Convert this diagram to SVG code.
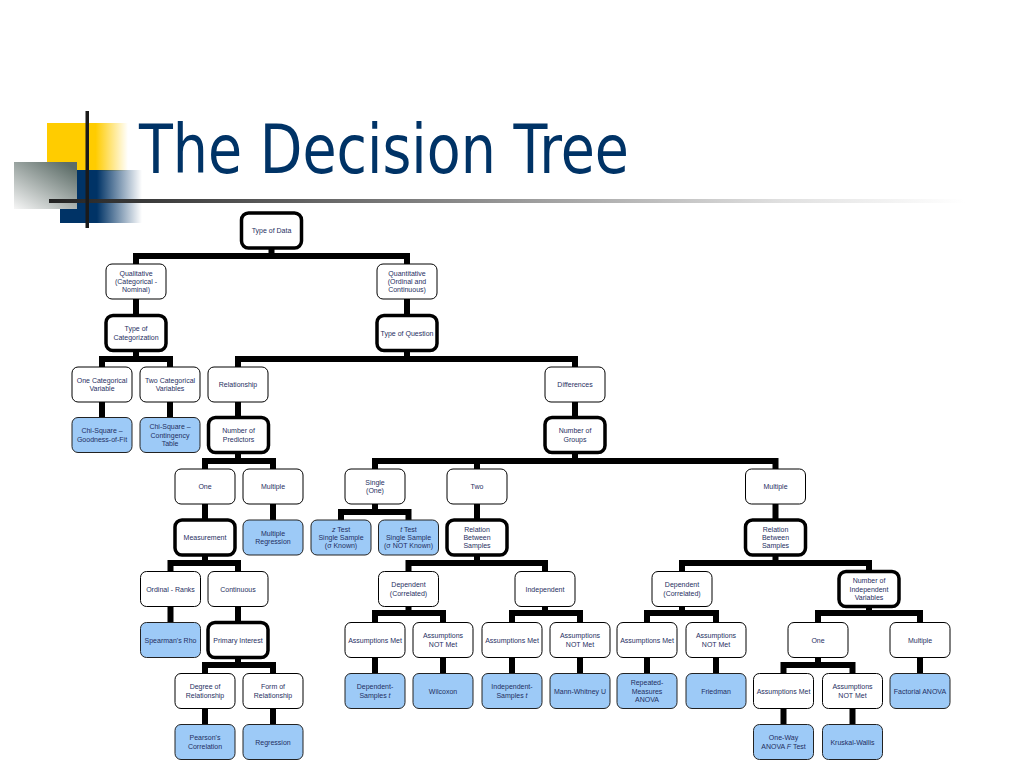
<svg xmlns="http://www.w3.org/2000/svg" width="1024" height="768" viewBox="0 0 1024 768">
<defs>
<linearGradient id="gY" gradientUnits="userSpaceOnUse" x1="47" y1="0" x2="128" y2="0"><stop offset="0" stop-color="#FFCC00"/><stop offset="0.6" stop-color="#FFCC00"/><stop offset="1" stop-color="#FFCC00" stop-opacity="0"/></linearGradient>
<linearGradient id="gB" gradientUnits="userSpaceOnUse" x1="60" y1="0" x2="142" y2="0"><stop offset="0" stop-color="#003366"/><stop offset="0.45" stop-color="#003366"/><stop offset="1" stop-color="#003366" stop-opacity="0"/></linearGradient>
<linearGradient id="gG" x1="0" y1="1" x2="0.8" y2="0"><stop offset="0" stop-color="#f6f6f6"/><stop offset="1" stop-color="#5d6d68"/></linearGradient>
<linearGradient id="gL" gradientUnits="userSpaceOnUse" x1="49" y1="0" x2="965" y2="0"><stop offset="0" stop-color="#222222"/><stop offset="0.45" stop-color="#8a8a8a"/><stop offset="0.8" stop-color="#e0e0e0"/><stop offset="1" stop-color="#ffffff"/></linearGradient>
<style>
.n{fill:#ffffff;stroke:#000000;stroke-width:1}
.k{fill:#ffffff;stroke:#000000;stroke-width:3.5}
.b{fill:#9DCAF7;stroke:#222222;stroke-width:1}
.t{font-family:"Liberation Sans",Arial,sans-serif;font-size:7px;fill:#1f2f62;text-anchor:middle}
.c{fill:none;stroke:#000000;stroke-width:6;stroke-linejoin:miter;stroke-linecap:butt}
</style>
</defs>
<rect width="1024" height="768" fill="#ffffff"/>
<g id="header">
<rect x="47" y="123" width="81" height="48" fill="url(#gY)"/>
<rect x="60" y="170" width="82" height="53" fill="url(#gB)"/>
<rect x="14" y="162" width="63" height="47" fill="url(#gG)"/>
<rect x="49" y="199" width="916" height="4" fill="url(#gL)"/>
<rect x="85.5" y="111" width="3.5" height="117" fill="#1a1a1a"/>
<text x="139" y="173" font-family="'DejaVu Sans',Tahoma,sans-serif" font-size="68" fill="#003366" textLength="490" lengthAdjust="spacingAndGlyphs">The Decision Tree</text>
</g>
<g id="connectors" class="c">
<path d="M271.5,230.5V256M136,281.5V256H407V281.5"/>
<path d="M136,281.5V333M407,281.5V333"/>
<path d="M136,333V359M102,384.5V359H170V384.5"/>
<path d="M407,333V359M238,384.5V359H575V384.5"/>
<path d="M102,384.5V435M170,384.5V435M238,384.5V435M575,384.5V435"/>
<path d="M238,435V461M205,486.5V461H273V486.5"/>
<path d="M575,435V461M375,486.5V461H775.5V486.5M477,461V486.5"/>
<path d="M205,486.5V537.5M273,486.5V537.5M477,486.5V537.5M775.5,486.5V537.5"/>
<path d="M375,486.5V512M341,537.5V512H408.5V537.5"/>
<path d="M205,537.5V563M170.5,589V563H238V589"/>
<path d="M477,537.5V563M408.5,589V563H545V589"/>
<path d="M775.5,537.5V563M682,589V563H869V589"/>
<path d="M170.5,589V640M238,589V640"/>
<path d="M408.5,589V613M375,640V613H443V640"/>
<path d="M545,589V613M512,640V613H580V640"/>
<path d="M682,589V613M647,640V613H716V640"/>
<path d="M869,589V613M818,640V613H920V640"/>
<path d="M238,640V665M205,691V665H273V691"/>
<path d="M375,640V691M443,640V691M512,640V691M580,640V691M647,640V691M716,640V691M920,640V691"/>
<path d="M818,640V665M783.5,691V665H852.5V691"/>
<path d="M205,691V742M273,691V742M783.5,691V742M852.5,691V742"/>
</g>
<g id="type-of-data"><rect class="k" x="241.5" y="213" width="60" height="35" rx="7"/><text class="t" x="271.5" y="233.3" font-size="8">Type of Data</text></g>
<g id="qualitative"><rect class="n" x="106" y="264" width="60" height="35" rx="6"/><text class="t" x="136" y="275.6">Qualitative<tspan x="136" dy="8.4">(Categorical -</tspan><tspan x="136" dy="8.4">Nominal)</tspan></text></g>
<g id="quantitative"><rect class="n" x="377" y="264" width="60" height="35" rx="6"/><text class="t" x="407" y="275.6">Quantitative<tspan x="407" dy="8.4">(Ordinal and</tspan><tspan x="407" dy="8.4">Continuous)</tspan></text></g>
<g id="type-of-categorization"><rect class="k" x="106" y="315.5" width="60" height="35" rx="7"/><text class="t" x="136" y="331.3">Type of<tspan x="136" dy="8.4">Categorization</tspan></text></g>
<g id="type-of-question"><rect class="k" x="377" y="315.5" width="60" height="35" rx="7"/><text class="t" x="407" y="335.5">Type of Question</text></g>
<g id="one-categorical-variable"><rect class="n" x="72" y="367" width="60" height="35" rx="6"/><text class="t" x="102" y="382.8">One Categorical<tspan x="102" dy="8.4">Variable</tspan></text></g>
<g id="two-categorical-variables"><rect class="n" x="140" y="367" width="60" height="35" rx="6"/><text class="t" x="170" y="382.8">Two Categorical<tspan x="170" dy="8.4">Variables</tspan></text></g>
<g id="relationship"><rect class="n" x="208" y="367" width="60" height="35" rx="6"/><text class="t" x="238" y="387">Relationship</text></g>
<g id="differences"><rect class="n" x="545" y="367" width="60" height="35" rx="6"/><text class="t" x="575" y="387">Differences</text></g>
<g id="chi-square-gof"><rect class="b" x="72" y="417.5" width="60" height="35" rx="6"/><text class="t" x="102" y="433.3">Chi-Square –<tspan x="102" dy="8.4">Goodness-of-Fit</tspan></text></g>
<g id="chi-square-contingency"><rect class="b" x="140" y="417.5" width="60" height="35" rx="6"/><text class="t" x="170" y="429.1">Chi-Square –<tspan x="170" dy="8.4">Contingency</tspan><tspan x="170" dy="8.4">Table</tspan></text></g>
<g id="number-of-predictors"><rect class="k" x="208.5" y="417.5" width="60" height="35" rx="7"/><text class="t" x="238.5" y="433.3">Number of<tspan x="238.5" dy="8.4">Predictors</tspan></text></g>
<g id="number-of-groups"><rect class="k" x="545" y="417.5" width="60" height="35" rx="7"/><text class="t" x="575" y="433.3">Number of<tspan x="575" dy="8.4">Groups</tspan></text></g>
<g id="one-predictor"><rect class="n" x="175" y="469" width="60" height="35" rx="6"/><text class="t" x="205" y="489">One</text></g>
<g id="multiple-predictors"><rect class="n" x="243" y="469" width="60" height="35" rx="6"/><text class="t" x="273" y="489">Multiple</text></g>
<g id="single-group"><rect class="n" x="345" y="469" width="60" height="35" rx="6"/><text class="t" x="375" y="484.8">Single<tspan x="375" dy="8.4">(One)</tspan></text></g>
<g id="two-groups"><rect class="n" x="447" y="469" width="60" height="35" rx="6"/><text class="t" x="477" y="489">Two</text></g>
<g id="multiple-groups"><rect class="n" x="745.5" y="469" width="60" height="35" rx="6"/><text class="t" x="775.5" y="489">Multiple</text></g>
<g id="measurement"><rect class="k" x="175" y="520" width="60" height="35" rx="7"/><text class="t" x="205" y="540">Measurement</text></g>
<g id="multiple-regression"><rect class="b" x="243" y="520" width="60" height="35" rx="6"/><text class="t" x="273" y="535.8">Multiple<tspan x="273" dy="8.4">Regression</tspan></text></g>
<g id="z-test"><rect class="b" x="311" y="520" width="60" height="35" rx="6"/><text class="t" x="341" y="531.6"><tspan font-style="italic">z</tspan> Test<tspan x="341" dy="8.4">Single Sample</tspan><tspan x="341" dy="8.4">(σ Known)</tspan></text></g>
<g id="t-test"><rect class="b" x="378.5" y="520" width="60" height="35" rx="6"/><text class="t" x="408.5" y="531.6"><tspan font-style="italic">t</tspan> Test<tspan x="408.5" dy="8.4">Single Sample</tspan><tspan x="408.5" dy="8.4">(σ NOT Known)</tspan></text></g>
<g id="relation-between-samples-two"><rect class="k" x="447" y="520" width="60" height="35" rx="7"/><text class="t" x="477" y="531.6">Relation<tspan x="477" dy="8.4">Between</tspan><tspan x="477" dy="8.4">Samples</tspan></text></g>
<g id="relation-between-samples-multiple"><rect class="k" x="745.5" y="520" width="60" height="35" rx="7"/><text class="t" x="775.5" y="531.6">Relation<tspan x="775.5" dy="8.4">Between</tspan><tspan x="775.5" dy="8.4">Samples</tspan></text></g>
<g id="ordinal-ranks"><rect class="n" x="140.5" y="571.5" width="60" height="35" rx="6"/><text class="t" x="170.5" y="591.5">Ordinal - Ranks</text></g>
<g id="continuous"><rect class="n" x="208" y="571.5" width="60" height="35" rx="6"/><text class="t" x="238" y="591.5">Continuous</text></g>
<g id="dependent-two"><rect class="n" x="378.5" y="571.5" width="60" height="35" rx="6"/><text class="t" x="408.5" y="587.3">Dependent<tspan x="408.5" dy="8.4">(Correlated)</tspan></text></g>
<g id="independent-two"><rect class="n" x="515" y="571.5" width="60" height="35" rx="6"/><text class="t" x="545" y="591.5">Independent</text></g>
<g id="dependent-multiple"><rect class="n" x="652" y="571.5" width="60" height="35" rx="6"/><text class="t" x="682" y="587.3">Dependent<tspan x="682" dy="8.4">(Correlated)</tspan></text></g>
<g id="number-of-independent-variables"><rect class="k" x="839" y="571.5" width="60" height="35" rx="7"/><text class="t" x="869" y="583.1">Number of<tspan x="869" dy="8.4">Independent</tspan><tspan x="869" dy="8.4">Variables</tspan></text></g>
<g id="spearmans-rho"><rect class="b" x="140.5" y="622.5" width="60" height="35" rx="6"/><text class="t" x="170.5" y="642.5">Spearman's Rho</text></g>
<g id="primary-interest"><rect class="k" x="208" y="622.5" width="60" height="35" rx="7"/><text class="t" x="238" y="642.5">Primary Interest</text></g>
<g id="assumptions-met-dep-two"><rect class="n" x="345" y="622.5" width="60" height="35" rx="6"/><text class="t" x="375" y="642.5">Assumptions Met</text></g>
<g id="assumptions-not-met-dep-two"><rect class="n" x="413" y="622.5" width="60" height="35" rx="6"/><text class="t" x="443" y="638.3">Assumptions<tspan x="443" dy="8.4">NOT Met</tspan></text></g>
<g id="assumptions-met-ind-two"><rect class="n" x="482" y="622.5" width="60" height="35" rx="6"/><text class="t" x="512" y="642.5">Assumptions Met</text></g>
<g id="assumptions-not-met-ind-two"><rect class="n" x="550" y="622.5" width="60" height="35" rx="6"/><text class="t" x="580" y="638.3">Assumptions<tspan x="580" dy="8.4">NOT Met</tspan></text></g>
<g id="assumptions-met-dep-multiple"><rect class="n" x="617" y="622.5" width="60" height="35" rx="6"/><text class="t" x="647" y="642.5">Assumptions Met</text></g>
<g id="assumptions-not-met-dep-multiple"><rect class="n" x="686" y="622.5" width="60" height="35" rx="6"/><text class="t" x="716" y="638.3">Assumptions<tspan x="716" dy="8.4">NOT Met</tspan></text></g>
<g id="one-iv"><rect class="n" x="788" y="622.5" width="60" height="35" rx="6"/><text class="t" x="818" y="642.5">One</text></g>
<g id="multiple-iv"><rect class="n" x="890" y="622.5" width="60" height="35" rx="6"/><text class="t" x="920" y="642.5">Multiple</text></g>
<g id="degree-of-relationship"><rect class="n" x="175" y="673.5" width="60" height="35" rx="6"/><text class="t" x="205" y="689.3">Degree of<tspan x="205" dy="8.4">Relationship</tspan></text></g>
<g id="form-of-relationship"><rect class="n" x="243" y="673.5" width="60" height="35" rx="6"/><text class="t" x="273" y="689.3">Form of<tspan x="273" dy="8.4">Relationship</tspan></text></g>
<g id="dependent-samples-t"><rect class="b" x="345" y="673.5" width="60" height="35" rx="6"/><text class="t" x="375" y="689.3">Dependent-<tspan x="375" dy="8.4">Samples <tspan font-style="italic">t</tspan></tspan></text></g>
<g id="wilcoxon"><rect class="b" x="413" y="673.5" width="60" height="35" rx="6"/><text class="t" x="443" y="693.5">Wilcoxon</text></g>
<g id="independent-samples-t"><rect class="b" x="482" y="673.5" width="60" height="35" rx="6"/><text class="t" x="512" y="689.3">Independent-<tspan x="512" dy="8.4">Samples <tspan font-style="italic">t</tspan></tspan></text></g>
<g id="mann-whitney-u"><rect class="b" x="550" y="673.5" width="60" height="35" rx="6"/><text class="t" x="580" y="693.5">Mann-Whitney U</text></g>
<g id="repeated-measures-anova"><rect class="b" x="617" y="673.5" width="60" height="35" rx="6"/><text class="t" x="647" y="685.1">Repeated-<tspan x="647" dy="8.4">Measures</tspan><tspan x="647" dy="8.4">ANOVA</tspan></text></g>
<g id="friedman"><rect class="b" x="686" y="673.5" width="60" height="35" rx="6"/><text class="t" x="716" y="693.5">Friedman</text></g>
<g id="assumptions-met-one"><rect class="n" x="753.5" y="673.5" width="60" height="35" rx="6"/><text class="t" x="783.5" y="693.5">Assumptions Met</text></g>
<g id="assumptions-not-met-one"><rect class="n" x="822.5" y="673.5" width="60" height="35" rx="6"/><text class="t" x="852.5" y="689.3">Assumptions<tspan x="852.5" dy="8.4">NOT Met</tspan></text></g>
<g id="factorial-anova"><rect class="b" x="890" y="673.5" width="60" height="35" rx="6"/><text class="t" x="920" y="693.5">Factorial ANOVA</text></g>
<g id="pearsons-correlation"><rect class="b" x="175" y="724.5" width="60" height="35" rx="6"/><text class="t" x="205" y="740.3">Pearson's<tspan x="205" dy="8.4">Correlation</tspan></text></g>
<g id="regression"><rect class="b" x="243" y="724.5" width="60" height="35" rx="6"/><text class="t" x="273" y="744.5">Regression</text></g>
<g id="one-way-anova"><rect class="b" x="753.5" y="724.5" width="60" height="35" rx="6"/><text class="t" x="783.5" y="740.3">One-Way<tspan x="783.5" dy="8.4">ANOVA <tspan font-style="italic">F</tspan> Test</tspan></text></g>
<g id="kruskal-wallis"><rect class="b" x="822.5" y="724.5" width="60" height="35" rx="6"/><text class="t" x="852.5" y="744.5">Kruskal-Wallis</text></g>
</svg>
